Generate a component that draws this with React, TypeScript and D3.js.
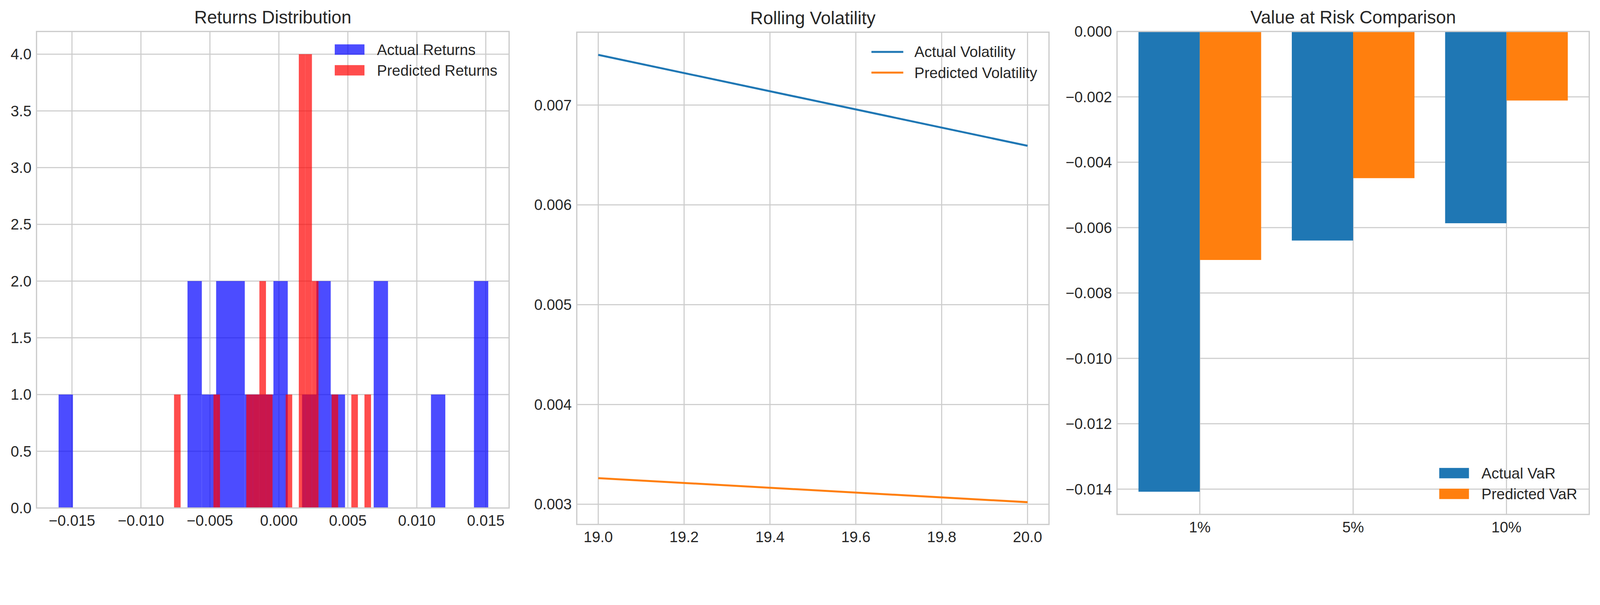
import * as d3 from 'd3';

// histogram of returns: 30 bins each
const actualMin = -0.01597;
const actualMax = 0.01518;
const actualCounts = [1, 0, 0, 0, 0, 0, 0, 0, 0, 2, 1, 2, 2, 1, 1, 2, 0, 1, 2, 1, 0, 0, 2, 0, 0, 0, 1, 0, 0, 2];
const predMin = -0.0076;
const predMax = 0.00668;
const predCounts = [1, 0, 0, 0, 0, 0, 1, 0, 0, 0, 0, 1, 1, 2, 1, 0, 0, 1, 0, 4, 4, 2, 0, 0, 1, 0, 0, 1, 0, 1];
const histXTicks = [-0.015, -0.01, -0.005, 0, 0.005, 0.01, 0.015];
const histYTicks = [0, 0.5, 1, 1.5, 2, 2.5, 3, 3.5, 4];

// rolling volatility
const volX = [19, 20];
const actualVol = [0.007503, 0.006592];
const predVol = [0.003262, 0.003021];
const volXTicks = [19.0, 19.2, 19.4, 19.6, 19.8, 20.0];
const volYTicks = [0.003, 0.004, 0.005, 0.006, 0.007];

// value at risk
const varLevels = ['1%', '5%', '10%'];
const actualVaR = [-0.01408, -0.006396, -0.005866];
const predVaR = [-0.00699, -0.004487, -0.002112];
const varYTicks = [0, -0.002, -0.004, -0.006, -0.008, -0.01, -0.012, -0.014];

const W = 4469;
const H = 1550;
const FONT = '"Liberation Sans", Arial, sans-serif';
const TEXT = '#262626';
const GRID = '#cccccc';
const minus = (s: string) => s.replace('-', '\u2212');

function bins(min: number, max: number, counts: number[]) {
  const w = (max - min) / counts.length;
  return counts.map((c, i) => ({ x0: min + i * w, x1: min + (i + 1) * w, c }));
}

type Box = { left: number; right: number; top: number; bottom: number };

function Frame({ box, title }: { box: Box; title: string }) {
  return (
    <>
      <rect x={box.left} y={box.top} width={box.right - box.left} height={box.bottom - box.top}
        fill="none" stroke={GRID} strokeWidth={3.5} />
      <text x={(box.left + box.right) / 2} y={box.top - 22} textAnchor="middle" fontSize={50} fill={TEXT}>{title}</text>
    </>
  );
}

function Grid({ box, xs, ys }: { box: Box; xs: number[]; ys: number[] }) {
  return (
    <g stroke={GRID} strokeWidth={3}>
      {xs.map((x, i) => <line key={'x' + i} x1={x} x2={x} y1={box.top} y2={box.bottom} />)}
      {ys.map((y, i) => <line key={'y' + i} x1={box.left} x2={box.right} y1={y} y2={y} />)}
    </g>
  );
}

function XLabels({ box, items }: { box: Box; items: [number, string][] }) {
  return (
    <g fontSize={42} fill={TEXT} textAnchor="middle">
      {items.map(([x, t], i) => <text key={i} x={x} y={box.bottom + 50}>{t}</text>)}
    </g>
  );
}

function YLabels({ box, items }: { box: Box; items: [number, string][] }) {
  return (
    <g fontSize={42} fill={TEXT} textAnchor="end">
      {items.map(([y, t], i) => <text key={i} x={box.left - 14} y={y} dy="0.35em">{t}</text>)}
    </g>
  );
}

function Histogram() {
  const box = { left: 102, right: 1422, top: 88, bottom: 1420 };
  const x = d3.scaleLinear().domain([-0.01757, 0.01669]).range([box.left, box.right]);
  const y = d3.scaleLinear().domain([0, 4.2]).range([box.bottom, box.top]);
  const fx = d3.format('.3f');
  const fy = d3.format('.1f');
  const series = [
    { data: bins(actualMin, actualMax, actualCounts), color: '#0000ff' },
    { data: bins(predMin, predMax, predCounts), color: '#ff0000' },
  ];
  return (
    <g>
      <Grid box={box} xs={histXTicks.map(x)} ys={histYTicks.map(y)} />
      {series.map((s, k) => (
        <g key={k} fill={s.color} fillOpacity={0.7}>
          {s.data.filter(b => b.c > 0).map((b, i) => (
            <rect key={i} x={x(b.x0)} width={x(b.x1) - x(b.x0)} y={y(b.c)} height={y(0) - y(b.c)} />
          ))}
        </g>
      ))}
      <Frame box={box} title="Returns Distribution" />
      <XLabels box={box} items={histXTicks.map(t => [x(t), minus(fx(t))])} />
      <YLabels box={box} items={histYTicks.map(t => [y(t), fy(t)])} />
      <g fontSize={42} fill={TEXT}>
        {[['Actual Returns', '#0000ff'], ['Predicted Returns', '#ff0000']].map(([l, c], i) => (
          <g key={l} transform={`translate(935,${124 + i * 58})`}>
            <rect width={83} height={29} fill={c} fillOpacity={0.7} />
            <text x={118} y={15} dy="0.35em">{l}</text>
          </g>
        ))}
      </g>
    </g>
  );
}

function Volatility() {
  const box = { left: 1611, right: 2930, top: 90, bottom: 1466 };
  const x = d3.scaleLinear().domain([18.95, 20.05]).range([box.left, box.right]);
  const y = d3.scaleLinear().domain([0.002798, 0.00773]).range([box.bottom, box.top]);
  const line = d3.line<number>().x((_, i) => x(volX[i])).y(d => y(d));
  const fx = d3.format('.1f');
  const fy = d3.format('.3f');
  return (
    <g>
      <Grid box={box} xs={volXTicks.map(x)} ys={volYTicks.map(y)} />
      <path d={line(actualVol) ?? ''} fill="none" stroke="#1f77b4" strokeWidth={5.5} />
      <path d={line(predVol) ?? ''} fill="none" stroke="#ff7f0e" strokeWidth={5.5} />
      <Frame box={box} title="Rolling Volatility" />
      <XLabels box={box} items={volXTicks.map(t => [x(t), fx(t)])} />
      <YLabels box={box} items={volYTicks.map(t => [y(t), fy(t)])} />
      <g fontSize={42} fill={TEXT}>
        {[['Actual Volatility', '#1f77b4'], ['Predicted Volatility', '#ff7f0e']].map(([l, c], i) => (
          <g key={l} transform={`translate(2434,${145 + i * 58})`}>
            <line x1={0} x2={89} stroke={c} strokeWidth={5.5} />
            <text x={120} dy="0.35em">{l}</text>
          </g>
        ))}
      </g>
    </g>
  );
}

function ValueAtRisk() {
  const box = { left: 3120, right: 4439, top: 88, bottom: 1438 };
  const x = d3.scaleLinear().domain([-0.54, 2.54]).range([box.left, box.right]);
  const y = d3.scaleLinear().domain([-0.014775, 0]).range([box.bottom, box.top]);
  const fy = d3.format('.3f');
  const w = 0.4;
  return (
    <g>
      <Grid box={box} xs={varLevels.map((_, i) => x(i))} ys={varYTicks.map(y)} />
      {varLevels.map((_, i) => (
        <g key={i}>
          <rect x={x(i - w)} width={x(i) - x(i - w)} y={y(0)} height={y(actualVaR[i]) - y(0)} fill="#1f77b4" />
          <rect x={x(i)} width={x(i + w) - x(i)} y={y(0)} height={y(predVaR[i]) - y(0)} fill="#ff7f0e" />
        </g>
      ))}
      <Frame box={box} title="Value at Risk Comparison" />
      <XLabels box={box} items={varLevels.map((l, i) => [x(i), l])} />
      <YLabels box={box} items={varYTicks.map(t => [y(t), minus(fy(t))])} />
      <g fontSize={42} fill={TEXT}>
        {[['Actual VaR', '#1f77b4'], ['Predicted VaR', '#ff7f0e']].map(([l, c], i) => (
          <g key={l} transform={`translate(4020,${1308 + i * 58})`}>
            <rect width={83} height={29} fill={c} />
            <text x={118} y={15} dy="0.35em">{l}</text>
          </g>
        ))}
      </g>
    </g>
  );
}

export default function App() {
  return (
    <svg viewBox={`0 0 ${W} ${H}`} width="100%" preserveAspectRatio="xMinYMin meet"
      style={{ position: 'absolute', left: 0, top: 0, display: 'block', background: '#fff' }}
      fontFamily={FONT}>
      <rect width={W} height={H} fill="#fff" />
      <Histogram />
      <Volatility />
      <ValueAtRisk />
    </svg>
  );
}
